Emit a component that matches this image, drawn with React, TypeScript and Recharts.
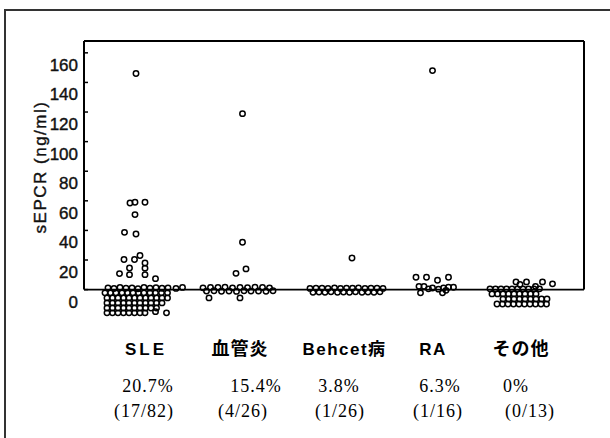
import React from 'react';
import { ScatterChart, Scatter, XAxis, YAxis, ReferenceLine, Label } from 'recharts';

// ---- data ----
const categories = ['SLE', '血管炎', 'Behcet病', 'RA', 'その他'];
const percents = ['20.7%', '15.4%', '3.8%', '6.3%', '0%'];
const fractions = ['(17/82)', '(4/26)', '(1/26)', '(1/16)', '(0/13)'];
const yTicks = [0, 20, 40, 60, 80, 100, 120, 140, 160];

// each point: [horizontal jitter, sEPCR value]
const slePoints: [number, number][] = [
  [-0.4, 146], [-1.6, 58.5], [-0.6, 59], [1.4, 59], [-0.6, 50.7], [-2.7, 38.7], [-0.4, 37.6],
  [-2.8, 20.3], [-0.7, 20.3], [0.4, 23], [1.4, 18], [1.4, 14.5], [1.4, 10.1], [-1.7, 14.6],
  [-1.7, 10.1], [-3.7, 10.8], [3.5, 7.4],
  [-6, 1.2], [-4.8, 0.8], [-3.6, 1.4], [-2.4, 1], [-1.2, 1.2], [0, 0.6], [1.2, 1.5], [2.4, 1],
  [3.6, 1.3], [4.8, 0.9], [6, 1.2], [7.6, 0.8], [8.9, 1.5],
  [-6.6, -2.2], [-5.5, -2.2], [-4.4, -2.2], [-3.2, -2.2], [-2.1, -2.2], [-1, -2.2], [0.1, -2.2],
  [1.2, -2.2], [2.4, -2.2], [3.5, -2.2], [4.7, -2.2], [5.9, -2.2],
  [-6.2, -5.6], [-5.1, -5.6], [-4, -5.6], [-2.9, -5.6], [-1.8, -5.6], [-0.7, -5.6], [0.4, -5.6],
  [1.5, -5.6], [2.6, -5.6], [3.7, -5.6], [4.8, -5.6], [5.9, -5.6],
  [-6.2, -9], [-5.1, -9], [-4, -9], [-2.9, -9], [-1.8, -9], [-0.7, -9], [0.4, -9], [1.5, -9],
  [2.6, -9], [3.7, -9], [4.8, -9],
  [-6.2, -12.4], [-5.1, -12.4], [-4, -12.4], [-2.9, -12.4], [-1.8, -12.4], [-0.7, -12.4],
  [0.4, -12.4], [1.5, -12.4], [2.6, -12.4], [3.7, -12.4],
  [-6.2, -15.7], [-5.1, -15.7], [-4, -15.7], [-2.9, -15.7], [-1.8, -15.7], [-0.7, -15.7],
  [0.4, -15.7], [1.4, -15.7], [3.5, -14.9], [5.7, -15.7],
];
const vasculitisPoints: [number, number][] = [
  [0.9, 118.9], [0.9, 32], [-0.4, 11], [1.6, 14], [-5.8, -5.6], [0.4, -5.6],
  [-7, 1.2], [-6.3, -1], [-5.5, 1.5], [-4.8, -0.8], [-4, 1.4], [-3.3, -1.1], [-2.6, 1.6],
  [-1.8, -0.9], [-1.1, 1.2], [-0.3, -1.2], [0.4, 1.5], [1.2, -0.8], [1.9, 1.3], [2.6, -1],
  [3.4, 1.6], [4.1, -0.9], [4.9, 1.4], [5.6, -1.1], [6.3, 1.2], [7, -0.8],
];
const behcetPoints: [number, number][] = [
  [1.1, 21.4],
  [-7.3, 0.8], [-6.7, -1.8], [-6.1, 0.9], [-5.5, -1.6], [-4.9, 1], [-4.3, -1.8], [-3.7, 0.8],
  [-3.1, -1.5], [-2.4, 1.2], [-1.8, -1.8], [-1.2, 0.8], [-0.6, -1.6], [0, 1], [0.6, -1.8],
  [1.2, 0.9], [1.8, -1.5], [2.4, 1.2], [3.1, -1.8], [3.7, 0.8], [4.3, -1.6], [4.9, 1],
  [5.5, -1.8], [6.1, 0.9], [6.7, -1.5], [7.3, 0.8],
];
const raPoints: [number, number][] = [
  [-0.7, 148], [-4, 8.3], [-1.9, 8.3], [0.3, 6.3], [2.5, 8.3], [-3.4, 2.2], [-2.4, 2.2],
  [-3.1, -2.2], [-0.7, 1.1], [1.3, -2.2], [1.5, 1.1], [2.5, 1.6], [3.5, 1.6], [-1.5, 0.5],
  [0.5, 0.3], [2.0, -0.5],
];
const otherPoints: [number, number][] = [
  [-1.4, 5.2], [0.7, 5.2], [3.9, 5.2], [5.9, 3.9], [-0.6, 3.4], [2.5, 2.2],
  [-6.6, 0.5], [-5.5, 0.5], [-4.4, 0.5], [-3.3, 0.5], [-2.2, 0.5], [-1.1, 0.5], [0, 0.5],
  [1.1, 0.5], [2.2, 0.5], [3.3, 0.5],
  [-6.2, -2.9], [-5.1, -2.9], [-4, -2.9], [-2.9, -2.9], [-1.8, -2.9], [-0.7, -2.9], [0.4, -2.9],
  [1.5, -2.9], [2.6, -2.9],
  [-4, -6.3], [-2.9, -6.3], [-1.8, -6.3], [-0.7, -6.3], [0.4, -6.3], [1.5, -6.3], [2.6, -6.3],
  [3.7, -6.3], [4.8, -6.3],
  [-5.2, -9.7], [-4.1, -9.7], [-3, -9.7], [-1.9, -9.7], [-0.8, -9.7], [0.3, -9.7], [1.4, -9.7],
  [2.5, -9.7], [3.6, -9.7], [4.7, -9.7],
];

// ---- layout ----
const catPos = [10.8, 30.8, 52.5, 70.4, 87.8]; // category centres on the 0..100 x scale
const catDx = [8, 2, -2, -3, -2];
const pctDx = [10, 18, -7.5, 4, -7];
const fracDx = [6, 5, -6.5, 2, 7];

const groups = [slePoints, vasculitisPoints, behcetPoints, raPoints, otherPoints].map((pts, i) =>
  pts.map(([dx, v]) => ({ x: catPos[i] + dx, y: v }))
);

const Dot = (props: any) => (
  <circle cx={props.cx} cy={props.cy} r={2.7} fill="none" stroke="#000" strokeWidth={1.5} />
);

const YTick = (props: any) => {
  const { x, y, payload } = props;
  return (
    <g>
      <line x1={x + 6} x2={x + 10} y1={y} y2={y} stroke="#000" strokeWidth={1.5} />
      <text x={x} y={y + 18} textAnchor="end" fontFamily="'Liberation Sans', Arial, sans-serif"
        fontSize={17} fill="#111" stroke="#111" strokeWidth={0.4}>
        {payload.value}
      </text>
    </g>
  );
};

const XTick = (props: any) => {
  const { x, y, payload } = props;
  const i = catPos.indexOf(payload.value);
  if (i < 0) return null;
  const isCJK = /[^\x00-\x7F]/.test(categories[i]) && i !== 2;
  return (
    <g>
      <text x={x + catDx[i]} y={y + 36} textAnchor="middle"
        fontFamily={isCJK ? "'Noto Sans CJK JP', sans-serif" : "'Liberation Sans', Arial, 'Noto Sans CJK JP', sans-serif"}
        fontWeight="bold" fontSize={isCJK ? 18 : 17} letterSpacing={isCJK ? 1 : i === 0 ? 3 : 1.5} fill="#000">
        {categories[i]}
      </text>
      <text x={x + pctDx[i]} y={y + 73} textAnchor="middle"
        fontFamily="'Liberation Serif', 'Times New Roman', serif" fontSize={18} letterSpacing={1} fill="#000">
        {percents[i]}
      </text>
      <text x={x + fracDx[i]} y={y + 98} textAnchor="middle"
        fontFamily="'Liberation Serif', 'Times New Roman', serif" fontSize={18} letterSpacing={1} fill="#000">
        {fractions[i]}
      </text>
    </g>
  );
};

export default function App() {
  return (
    <div style={{ position: 'absolute', left: 0, top: 0, width: 610, height: 438, background: '#fff', overflow: 'hidden' }}>
      <div style={{ position: 'absolute', left: 4, top: 9, width: 606, height: 429, borderTop: '2px solid #333', borderLeft: '2px solid #333' }} />
      <div style={{ position: 'absolute', left: 0, top: 0 }}>
        <ScatterChart width={610} height={438} margin={{ top: 41, right: 26, left: 24, bottom: 18.8 }}>
          <XAxis type="number" dataKey="x" domain={[0, 100]} ticks={catPos} interval={0} allowDataOverflow
            axisLine={false} tickLine={false} tickSize={0} tickMargin={0} height={100} tick={<XTick />} />
          <YAxis type="number" dataKey="y" domain={[-20, 168]} ticks={yTicks} interval={0} allowDataOverflow
            axisLine={false} tickLine={false} tickSize={0} tickMargin={6} width={60} tick={<YTick />}>
            <Label content={(p: any) => {
              const vb = p.viewBox || { x: 24, y: 41 };
              const cx = vb.x + 16;
              const cy = vb.y + 126;
              return (
                <text x={cx} y={cy} transform={`rotate(-90 ${cx} ${cy})`} textAnchor="middle" dominantBaseline="central"
                  fontFamily="'Liberation Sans', Arial, sans-serif" fontSize={17} letterSpacing={1.5} fill="#111"
                  stroke="#111" strokeWidth={0.4}>
                  sEPCR (ng/ml)
                </text>
              );
            }} />
          </YAxis>
          <ReferenceLine segment={[{ x: 0, y: 0 }, { x: 0, y: 168 }]} stroke="#000" strokeWidth={2} ifOverflow="visible" />
          <ReferenceLine segment={[{ x: 0, y: 168 }, { x: 100, y: 168 }]} stroke="#000" strokeWidth={2} ifOverflow="visible" />
          <ReferenceLine segment={[{ x: 100, y: 0 }, { x: 100, y: 168 }]} stroke="#000" strokeWidth={2} ifOverflow="visible" />
          <ReferenceLine y={0} stroke="#000" strokeWidth={1.6} ifOverflow="visible" />
          {groups.map((g, i) => (
            <Scatter key={categories[i]} data={g} shape={<Dot />} isAnimationActive={false} />
          ))}
        </ScatterChart>
      </div>
    </div>
  );
}
